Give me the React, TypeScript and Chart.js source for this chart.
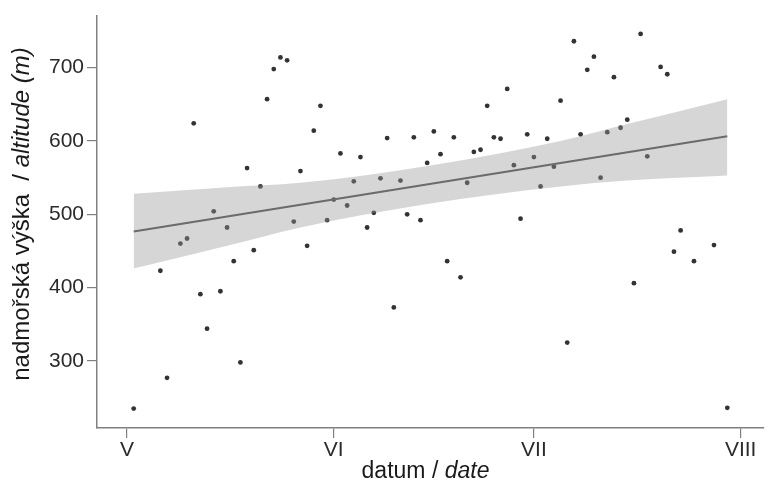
import React, { useEffect, useRef } from "react";
import { Chart, registerables } from "chart.js";

Chart.register(...registerables);

// day 0 = 1 May
const days = [1, 5, 6, 8, 9, 10, 11, 12, 13, 14, 15, 16, 17, 18, 19, 20, 21, 22, 23, 24, 25, 26, 27, 28, 29, 30, 31, 32, 33, 34, 35, 36, 37, 38, 39, 40, 41, 42, 43, 44, 45, 46, 47, 48, 49, 50, 51, 52, 53, 54, 55, 56, 57, 58, 59, 60, 61, 62, 63, 64, 65, 66, 67, 68, 69, 70, 71, 72, 73, 74, 75, 76, 77, 78, 80, 81, 82, 83, 85, 88, 90];
const altitudes = [235, 423, 277, 460, 467, 624, 391, 344, 504, 395, 482, 436, 298, 563, 451, 538, 657, 698, 714, 710, 490, 559, 457, 614, 648, 492, 520, 583, 512, 545, 578, 482, 502, 549, 604, 373, 546, 500, 605, 492, 570, 613, 582, 436, 605, 414, 543, 585, 588, 648, 605, 603, 671, 567, 494, 609, 578, 538, 603, 565, 655, 325, 736, 609, 697, 715, 550, 612, 687, 618, 629, 406, 746, 579, 701, 691, 449, 478, 436, 458, 236];

const fitDays = [1, 90];
const fitValues = [476.6, 606.4];

const bandDays = [1, 15, 26, 45, 65, 75, 90];
const bandUpper = [528, 537, 543, 566, 600, 623, 657];
const bandLower = [426, 457, 482, 514, 538, 546, 553];

const xTickDays = [0, 31, 61, 92];
const xTickLabels = ["V", "VI", "VII", "VIII"];
const yTickValues = [300, 400, 500, 600, 700];

const FONT = "'Liberation Sans', Arial, Helvetica, sans-serif";

const titlePlugin = {
  id: "mixedTitles",
  afterDraw(chart: any) {
    const ctx = chart.ctx;
    ctx.save();
    ctx.fillStyle = "#1a1a1a";
    ctx.textBaseline = "middle";
    ctx.textAlign = "left";
    // x title
    const xs = 23;
    const xa = "datum / ";
    const xb = "date";
    ctx.font = `${xs}px ${FONT}`;
    const wa = ctx.measureText(xa).width;
    ctx.font = `italic ${xs}px ${FONT}`;
    const wb = ctx.measureText(xb).width;
    const cx = 425.5;
    const sx = cx - (wa + wb) / 2;
    ctx.font = `${xs}px ${FONT}`;
    ctx.fillText(xa, sx, 472);
    ctx.font = `italic ${xs}px ${FONT}`;
    ctx.fillText(xb, sx + wa, 472);
    // y title
    const ys = 24;
    const ya = "nadmořská výška  / ";
    const yb = "altitude (m)";
    ctx.font = `${ys}px ${FONT}`;
    const ha = ctx.measureText(ya).width;
    ctx.font = `italic ${ys}px ${FONT}`;
    const hb = ctx.measureText(yb).width;
    ctx.translate(22, 214);
    ctx.rotate(-Math.PI / 2);
    const sy = -(ha + hb) / 2;
    ctx.font = `${ys}px ${FONT}`;
    ctx.fillText(ya, sy, 0);
    ctx.font = `italic ${ys}px ${FONT}`;
    ctx.fillText(yb, sy + ha, 0);
    ctx.restore();
  },
};

export default function App() {
  const ref = useRef<HTMLCanvasElement | null>(null);

  useEffect(() => {
    if (!ref.current) return;
    const chart = new Chart(ref.current, {
      type: "scatter",
      data: {
        datasets: [
          {
            label: "points",
            data: days.map((d, i) => ({ x: d, y: altitudes[i] })),
            backgroundColor: "#333333",
            borderColor: "#333333",
            pointRadius: 2.4,
            pointBorderWidth: 0,
            order: 3,
          } as any,
          {
            label: "upper",
            type: "line",
            data: bandDays.map((d, i) => ({ x: d, y: bandUpper[i] })),
            borderWidth: 0,
            borderColor: "rgba(0,0,0,0)",
            backgroundColor: "rgba(153,153,153,0.4)",
            pointRadius: 0,
            fill: "+1",
            cubicInterpolationMode: "monotone",
            order: 2,
          } as any,
          {
            label: "lower",
            type: "line",
            data: bandDays.map((d, i) => ({ x: d, y: bandLower[i] })),
            borderWidth: 0,
            borderColor: "rgba(0,0,0,0)",
            pointRadius: 0,
            fill: false,
            cubicInterpolationMode: "monotone",
            order: 2,
          } as any,
          {
            label: "fit",
            type: "line",
            data: fitDays.map((d, i) => ({ x: d, y: fitValues[i] })),
            borderColor: "#6b6b6b",
            borderWidth: 2,
            pointRadius: 0,
            fill: false,
            order: 1,
          } as any,
        ],
      },
      options: {
        animation: false,
        responsive: false,
        layout: { padding: { top: 12, right: 2, left: 0, bottom: 0 } },
        plugins: {
          legend: { display: false },
          tooltip: { enabled: false },
        },
        scales: {
          x: {
            type: "linear",
            min: -4.5,
            max: 95.5,
            afterFit: (s: any) => {
              s.height = 58;
            },
            afterBuildTicks: (s: any) => {
              s.ticks = xTickDays.map((v) => ({ value: v }));
            },
            ticks: {
              callback: (v: any) => {
                const i = xTickDays.indexOf(Number(v));
                return i >= 0 ? xTickLabels[i] : "";
              },
              font: { family: FONT, size: 21 },
              color: "#2b2b2b",
              padding: 0,
              maxRotation: 0,
              autoSkip: false,
            },
            grid: {
              display: true,
              drawOnChartArea: false,
              drawTicks: true,
              tickLength: 10,
              color: "#808080",
              lineWidth: 1.2,
            },
            border: { display: true, color: "#808080", width: 1.5 },
          },
          y: {
            type: "linear",
            min: 208.5,
            max: 771,
            afterFit: (s: any) => {
              s.width = 97;
            },
            afterBuildTicks: (s: any) => {
              s.ticks = yTickValues.map((v) => ({ value: v }));
            },
            ticks: {
              font: { family: FONT, size: 21 },
              color: "#2b2b2b",
              padding: 3,
            },
            grid: {
              display: true,
              drawOnChartArea: false,
              drawTicks: true,
              tickLength: 10,
              color: "#808080",
              lineWidth: 1.2,
            },
            border: { display: true, color: "#808080", width: 1.5 },
          },
        },
      },
      plugins: [titlePlugin],
    });
    return () => chart.destroy();
  }, []);

  return (
    <div style={{ position: "absolute", left: 0, top: 0, width: 768, height: 486, background: "#fff" }}>
      <canvas ref={ref} width={768} height={486} />
    </div>
  );
}
